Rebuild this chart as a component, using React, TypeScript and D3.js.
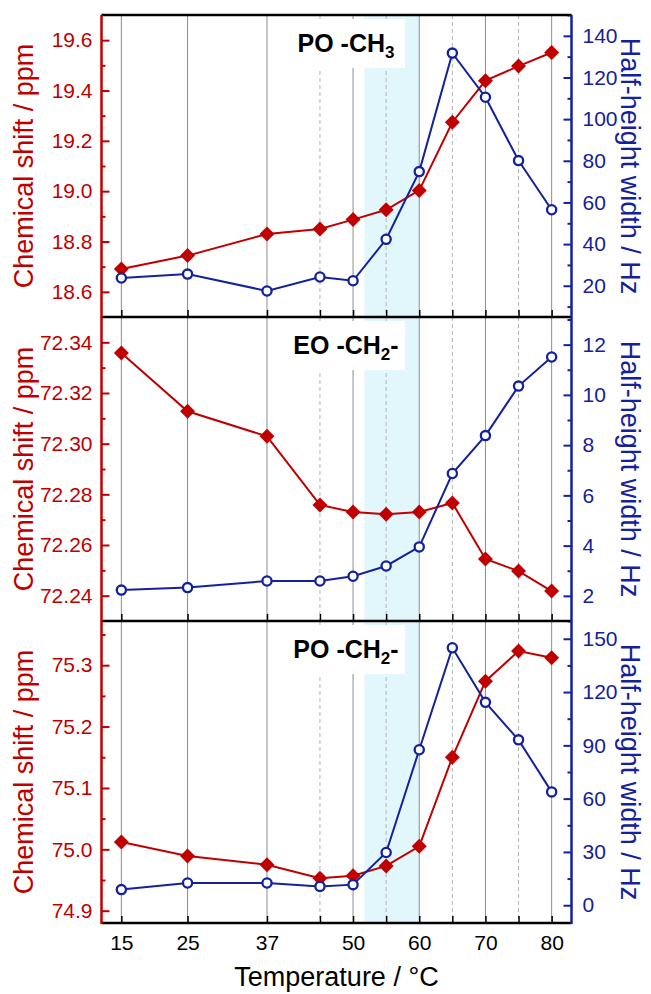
import React, { useEffect, useRef } from 'react';
import * as d3 from 'd3';

// temperatures (°C)
const temps = [15, 25, 37, 45, 50, 55, 60, 65, 70, 75, 80];
const labeledTemps = [15, 25, 37, 50, 60, 70, 80];
const dashedTemps = [45, 55, 65, 75];
const band = [51.7, 60];

// PO -CH3
const poCH3Shift = [18.691, 18.744, 18.83, 18.85, 18.887, 18.926, 19.003, 19.274, 19.439, 19.497, 19.551];
const poCH3Width = [23.7, 25.6, 17.5, 24.2, 22.4, 42.3, 74.8, 131.7, 110.5, 80.1, 56.5];
// EO -CH2-
const eoCH2Shift = [72.3358, 72.3128, 72.3029, 72.2758, 72.273, 72.2721, 72.273, 72.2766, 72.2545, 72.2497, 72.2418];
const eoCH2Width = [2.23, 2.33, 2.59, 2.59, 2.78, 3.19, 3.95, 6.87, 8.38, 10.35, 11.51];
// PO -CH2-
const poCH2Shift = [75.012, 74.989, 74.975, 74.953, 74.957, 74.973, 75.005, 75.15, 75.274, 75.323, 75.312];
const poCH2Width = [8.8, 12.5, 12.5, 10.6, 11.6, 29.7, 87.5, 144.9, 114.2, 93.1, 63.8];

// tick labels
const poCH3ShiftTicks = [18.6, 18.8, 19.0, 19.2, 19.4, 19.6];
const poCH3WidthTicks = [20, 40, 60, 80, 100, 120, 140];
const eoCH2ShiftTicks = [72.24, 72.26, 72.28, 72.3, 72.32, 72.34];
const eoCH2WidthTicks = [2, 4, 6, 8, 10, 12];
const poCH2ShiftTicks = [74.9, 75.0, 75.1, 75.2, 75.3];
const poCH2WidthTicks = [0, 30, 60, 90, 120, 150];

const RED = '#c00000';
const BLUE = '#14219c';
const FONT = '"Liberation Sans", Arial, sans-serif';

const panels = [
  {
    name: ['PO -CH', '3', ''], shift: poCH3Shift, width: poCH3Width,
    leftDomain: [18.5, 19.7], rightDomain: [5, 150],
    leftTicks: poCH3ShiftTicks, leftMinor: d3.range(18.7, 19.7, 0.2), leftFmt: '.1f',
    rightTicks: poCH3WidthTicks, rightMinor: d3.range(10, 151, 20), rightFmt: 'd',
  },
  {
    name: ['EO -CH', '2', '-'], shift: eoCH2Shift, width: eoCH2Width,
    leftDomain: [72.23, 72.35], rightDomain: [1, 13.1],
    leftTicks: eoCH2ShiftTicks, leftMinor: d3.range(72.25, 72.35, 0.02), leftFmt: '.2f',
    rightTicks: eoCH2WidthTicks, rightMinor: d3.range(1, 14, 2), rightFmt: 'd',
  },
  {
    name: ['PO -CH', '2', '-'], shift: poCH2Shift, width: poCH2Width,
    leftDomain: [74.88, 75.372], rightDomain: [-10, 160],
    leftTicks: poCH2ShiftTicks, leftMinor: d3.range(74.95, 75.36, 0.1), leftFmt: '.1f',
    rightTicks: poCH2WidthTicks, rightMinor: d3.range(15, 160, 30), rightFmt: 'd',
  },
];

const App = () => {
  const svgRef = useRef<SVGSVGElement>(null);

  useEffect(() => {
    const svg = d3.select(svgRef.current);
    svg.selectAll('*').remove();

    const left = 101.5;
    const right = 571.5;
    const panelTops = [15, 317, 621];
    const bottom = 923;

    const x = d3.scaleLinear().domain([12, 83]).range([left, right]);

    panels.forEach((p, i) => {
      const top = panelTops[i];
      const bot = i < 2 ? panelTops[i + 1] : bottom;
      const yL = d3.scaleLinear().domain(p.leftDomain).range([bot, top]);
      const yR = d3.scaleLinear().domain(p.rightDomain).range([bot, top]);
      const g = svg.append('g');

      // shaded region
      g.append('rect')
        .attr('x', x(band[0]))
        .attr('y', top)
        .attr('width', x(band[1]) - x(band[0]))
        .attr('height', bot - top)
        .attr('fill', '#e2f7fc');

      // vertical grid lines
      g.selectAll('line.grid')
        .data(temps)
        .enter().append('line')
        .attr('x1', d => x(d)).attr('x2', d => x(d))
        .attr('y1', top).attr('y2', bot)
        .attr('stroke', d => dashedTemps.includes(d) ? '#b4b4b4' : '#8c8c8c')
        .attr('stroke-width', 1)
        .attr('stroke-dasharray', d => dashedTemps.includes(d) ? '4,3' : null);

      // label box
      g.append('rect')
        .attr('x', 284).attr('y', top + 4)
        .attr('width', 121).attr('height', 49)
        .attr('fill', '#fff');
      const lbl = g.append('text')
        .attr('x', 346).attr('y', top + 37)
        .attr('text-anchor', 'middle')
        .attr('font-family', FONT)
        .attr('font-weight', 'bold')
        .attr('font-size', 25)
        .attr('fill', '#000');
      lbl.append('tspan').text(p.name[0]);
      lbl.append('tspan').attr('font-size', 17).attr('dy', 6).text(p.name[1]);
      if (p.name[2]) lbl.append('tspan').attr('dy', -6).text(p.name[2]);

      // x ticks (inward)
      const xAxis = g.append('g')
        .attr('transform', `translate(0, ${bot})`)
        .call(d3.axisBottom(x).tickValues(temps).tickSizeInner(-7).tickSizeOuter(0).tickPadding(12)
          .tickFormat(d => (i === 2 && labeledTemps.includes(d as number)) ? String(d) : ''));
      xAxis.select('.domain').remove();
      xAxis.selectAll('line').attr('stroke', '#000').attr('stroke-width', 1.5);
      xAxis.selectAll('text').attr('font-family', FONT).attr('font-size', 21).attr('fill', '#000');

      // left axis
      const la = g.append('g')
        .attr('transform', `translate(${left}, 0)`)
        .call(d3.axisLeft(yL).tickValues(p.leftTicks).tickSizeInner(-8).tickSizeOuter(0).tickPadding(9)
          .tickFormat(d3.format(p.leftFmt)));
      la.select('.domain').remove();
      la.selectAll('line').attr('stroke', RED).attr('stroke-width', 2);
      la.selectAll('text').attr('font-family', FONT).attr('font-size', 21).attr('fill', RED);
      const lm = g.append('g')
        .attr('transform', `translate(${left}, 0)`)
        .call(d3.axisLeft(yL).tickValues(p.leftMinor).tickSizeInner(-4).tickSizeOuter(0).tickFormat(() => ''));
      lm.select('.domain').remove();
      lm.selectAll('line').attr('stroke', RED).attr('stroke-width', 2);

      // right axis
      const ra = g.append('g')
        .attr('transform', `translate(${right}, 0)`)
        .call(d3.axisRight(yR).tickValues(p.rightTicks).tickSizeInner(-8).tickSizeOuter(0).tickPadding(11)
          .tickFormat(d3.format(p.rightFmt)));
      ra.select('.domain').remove();
      ra.selectAll('line').attr('stroke', BLUE).attr('stroke-width', 2);
      ra.selectAll('text').attr('font-family', FONT).attr('font-size', 21).attr('fill', BLUE);
      const rm = g.append('g')
        .attr('transform', `translate(${right}, 0)`)
        .call(d3.axisRight(yR).tickValues(p.rightMinor).tickSizeInner(-4).tickSizeOuter(0).tickFormat(() => ''));
      rm.select('.domain').remove();
      rm.selectAll('line').attr('stroke', BLUE).attr('stroke-width', 2);

      // series: chemical shift (red diamonds)
      const lineL = d3.line<number>().x((d, k) => x(temps[k])).y(d => yL(d));
      g.append('path')
        .datum(p.shift)
        .attr('fill', 'none')
        .attr('stroke', RED)
        .attr('stroke-width', 2)
        .attr('d', lineL);
      g.selectAll('path.dia')
        .data(p.shift)
        .enter().append('path')
        .attr('transform', (d, k) => `translate(${x(temps[k])}, ${yL(d)}) rotate(45)`)
        .attr('d', d3.symbol(d3.symbolSquare, 112)())
        .attr('fill', RED);

      // series: half-height width (blue open circles)
      const lineR = d3.line<number>().x((d, k) => x(temps[k])).y(d => yR(d));
      g.append('path')
        .datum(p.width)
        .attr('fill', 'none')
        .attr('stroke', BLUE)
        .attr('stroke-width', 2)
        .attr('d', lineR);
      g.selectAll('circle')
        .data(p.width)
        .enter().append('circle')
        .attr('cx', (d, k) => x(temps[k]))
        .attr('cy', d => yR(d))
        .attr('r', 4.6)
        .attr('fill', '#fff')
        .attr('stroke', BLUE)
        .attr('stroke-width', 2.3);

      // panel top border
      g.append('line')
        .attr('x1', left).attr('x2', right)
        .attr('y1', top).attr('y2', top)
        .attr('stroke', '#000').attr('stroke-width', 2.5);

      // axis titles
      svg.append('text')
        .attr('transform', `translate(33, ${(top + bot) / 2}) rotate(-90)`)
        .attr('text-anchor', 'middle')
        .attr('font-family', FONT)
        .attr('font-size', 27)
        .attr('fill', RED)
        .text('Chemical shift / ppm');
      svg.append('text')
        .attr('transform', `translate(621, ${(top + bot) / 2}) rotate(90)`)
        .attr('text-anchor', 'middle')
        .attr('font-family', FONT)
        .attr('font-size', 27)
        .attr('fill', BLUE)
        .text('Half-height width / Hz');
    });

    // frame
    svg.append('line')
      .attr('x1', left).attr('x2', right)
      .attr('y1', bottom).attr('y2', bottom)
      .attr('stroke', '#000').attr('stroke-width', 2.5);
    svg.append('line')
      .attr('x1', left).attr('x2', left)
      .attr('y1', panelTops[0]).attr('y2', bottom + 1)
      .attr('stroke', RED).attr('stroke-width', 2.5);
    svg.append('line')
      .attr('x1', right).attr('x2', right)
      .attr('y1', panelTops[0]).attr('y2', bottom + 1)
      .attr('stroke', BLUE).attr('stroke-width', 2.5);

    svg.append('text')
      .attr('x', (left + right) / 2)
      .attr('y', 986)
      .attr('text-anchor', 'middle')
      .attr('font-family', FONT)
      .attr('font-size', 27)
      .attr('fill', '#000')
      .text('Temperature / °C');
  }, []);

  return (
    <svg ref={svgRef} width={651} height={994}
      style={{ position: 'absolute', left: 0, top: 0, background: '#fff' }} />
  );
};

export default App;
